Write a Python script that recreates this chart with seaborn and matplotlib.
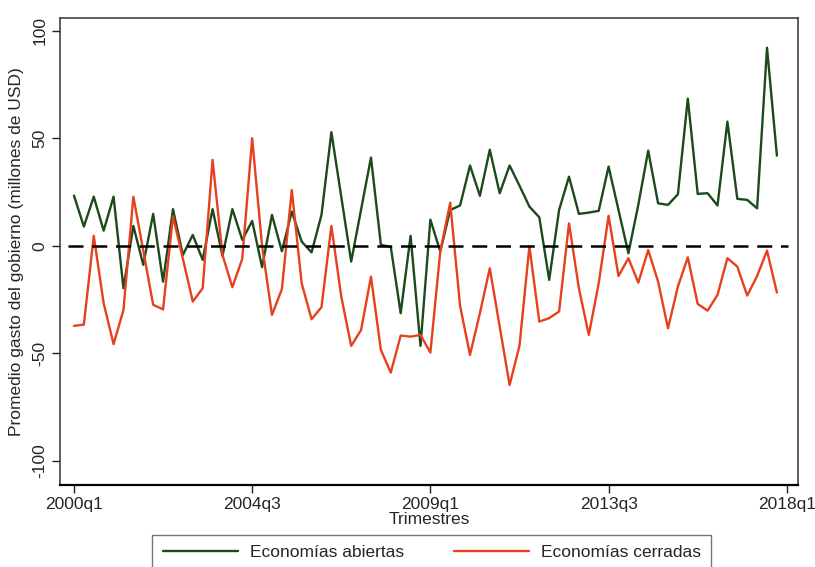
import numpy as np
import pandas as pd
import matplotlib
matplotlib.use("Agg")
import matplotlib.pyplot as plt
import seaborn as sns
from matplotlib.lines import Line2D

# Quarterly average government spending (millions of USD), 2000q1-2017q4
trimestres = [f"{y}q{q}" for y in range(2000, 2018) for q in range(1, 5)]

abiertas = [
    23.4, 9.0, 22.9, 7.1, 22.9, -19.7, 9.3, -8.8, 14.9, -16.6,
    17.1, -4.2, 5.1, -6.5, 17.1, -4.7, 17.1, 2.8, 11.6, -9.9,
    14.4, -2.5, 16.0, 2.0, -3.0, 14.4, 52.9, 22.8, -7.3, 16.9,
    41.1, 0.5, -0.5, -31.3, 4.7, -46.5, 12.2, -2.6, 16.7, 18.8,
    37.4, 23.3, 44.7, 24.5, 37.4, 28.0, 18.3, 13.3, -15.8, 16.7,
    32.2, 14.9, 15.5, 16.3, 36.9, 16.7, -3.4, 19.1, 44.3, 19.8,
    19.1, 24.0, 68.5, 24.2, 24.5, 18.8, 57.8, 21.9, 21.4, 17.5,
    92.2, 42.0,
]

cerradas = [
    -37.2, -36.6, 4.7, -26.7, -45.7, -29.8, 22.9, -2.2, -27.4, -29.5,
    13.8, -5.9, -25.9, -19.7, 40.0, -4.2, -19.2, -6.0, 50.1, 0.0,
    -32.1, -20.1, 26.0, -17.4, -34.1, -28.5, 9.3, -23.6, -46.5, -39.1,
    -14.3, -48.4, -58.9, -41.7, -42.2, -41.4, -49.6, -2.6, 20.1, -27.9,
    -50.7, -31.3, -10.4, -37.5, -64.7, -46.4, -0.2, -35.2, -33.6, -30.5,
    10.5, -19.7, -41.4, -17.4, 14.0, -14.0, -5.7, -17.1, -1.9, -16.6,
    -38.3, -18.9, -5.3, -27.0, -30.1, -22.8, -5.7, -9.6, -23.1, -14.0,
    -2.2, -21.7,
]

series_names = ["Economías abiertas", "Economías cerradas"]
colores = ["#1b4a1b", "#e8401c"]

xtick_labels = ["2000q1", "2004q3", "2009q1", "2013q3", "2018q1"]
ytick_values = [-100, -50, 0, 50, 100]

n = len(trimestres)
df = pd.DataFrame({
    "t": list(range(n)) * 2,
    "valor": abiertas + cerradas,
    "grupo": [series_names[0]] * n + [series_names[1]] * n,
})

sns.set_theme(style="white")
plt.rcParams["font.family"] = ["Liberation Sans", "DejaVu Sans"]

fig = plt.figure(figsize=(8.15, 5.67), dpi=100)
ax = fig.add_axes([60 / 815, 1 - 485 / 567, 738 / 815, 467 / 567])

sns.lineplot(data=df, x="t", y="valor", hue="grupo", palette=colores,
             hue_order=series_names, linewidth=1.7, ax=ax, legend=False)

ax.axhline(0, xmin=0.011, xmax=0.986, color="black", linewidth=1.8,
           dashes=(6, 3.5))

ax.set_xlim(-1.41, 73.13)
ax.set_ylim(-111.2, 106.0)

xtick_pos = [trimestres.index(l) if l in trimestres else n for l in xtick_labels]
ax.set_xticks(xtick_pos)
ax.set_xticklabels(xtick_labels, fontsize=12.5)
ax.set_yticks(ytick_values)
ax.set_yticklabels([str(v) for v in ytick_values], fontsize=12.5,
                   rotation=90, va="center")
ax.tick_params(axis="both", direction="out", length=6, width=1.0,
               color="#222222", pad=3, bottom=True, left=True)

for s in ax.spines.values():
    s.set_color("#333333")
    s.set_linewidth(1.1)
ax.spines["bottom"].set_color("#000000")
ax.spines["bottom"].set_linewidth(1.6)

ax.set_xlabel("Trimestres", fontsize=12.5, labelpad=0)
ax.set_ylabel("Promedio gasto del gobierno (millones de USD)", fontsize=12.5,
              labelpad=6)
ax.grid(False)

handles = [Line2D([0], [0], color=c, linewidth=1.7) for c in colores]
leg = fig.legend(handles, series_names, loc="upper center",
                 bbox_to_anchor=(0.530, 0.057), ncol=2, frameon=True,
                 fancybox=False, edgecolor="#555555", fontsize=12.5,
                 handlelength=4.3, handletextpad=0.7, columnspacing=2.9,
                 borderpad=0.6, borderaxespad=0)
leg.get_frame().set_linewidth(1.0)

fig.savefig("out.png", dpi=100)
